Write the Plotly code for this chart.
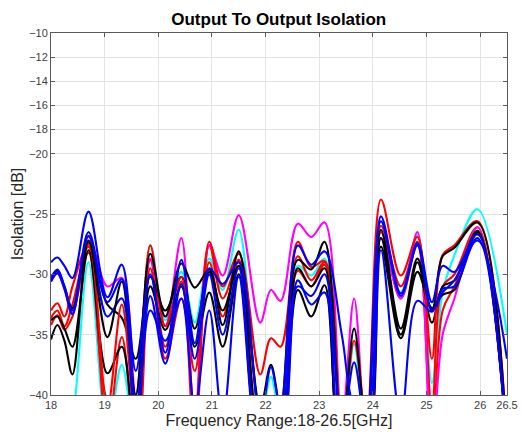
import plotly.graph_objects as go

# Frequency breakpoints (GHz)
freq = [18.00, 18.12, 18.25, 18.40, 18.70, 19.05, 19.32, 19.58, 19.85, 20.13, 20.43,
        20.68, 20.95, 21.20, 21.50, 21.90, 22.10, 22.28, 22.60, 22.85, 23.10, 23.42,
        23.65, 23.88, 24.15, 24.52, 24.83, 25.10, 25.30, 25.52, 25.95, 26.50]

# Isolation traces (dB)
cyan_1 = [-44.0, -44.0, -44.0, -42.0, -29.0, -43.0, -37.5, -44.0, -27.6, -33.8, -29.8,
          -34.0, -28.7, -31.3, -26.3, -42.0, -38.5, -42.0, -29.3, -30.1, -28.7, -44.0,
          -35.8, -44.0, -25.6, -31.5, -26.7, -39.0, -31.5, -28.4, -24.6, -35.0]
red_1 = [-33.0, -32.4, -33.5, -31.0, -27.5, -41.0, -32.5, -42.0, -27.6, -34.3, -30.2,
         -42.0, -27.3, -31.0, -28.3, -38.3, -35.3, -36.0, -27.3, -29.4, -28.9, -43.0,
         -35.5, -42.0, -23.8, -30.1, -26.9, -37.0, -28.4, -27.6, -25.6, -44.0]
red_2 = [-33.6, -33.0, -34.3, -32.5, -27.7, -43.0, -35.2, -44.0, -28.8, -36.0, -30.6,
         -44.0, -27.6, -32.0, -29.0, -43.0, -42.0, -44.0, -29.7, -31.0, -29.2, -44.0,
         -43.0, -44.0, -26.0, -31.0, -27.3, -41.0, -31.0, -30.0, -26.1, -44.0]
red_3 = [-34.2, -33.4, -34.6, -33.5, -28.2, -40.5, -42.0, -45.0, -29.5, -37.0, -32.0,
         -38.0, -29.0, -33.5, -28.8, -42.0, -44.0, -42.0, -28.5, -30.5, -29.0, -44.0,
         -44.0, -44.0, -26.5, -32.0, -27.5, -44.0, -33.0, -31.0, -26.6, -44.0]
magenta_1 = [-30.6, -29.9, -31.2, -33.2, -26.9, -31.0, -30.3, -40.0, -28.7, -34.3, -27.0,
             -42.0, -27.6, -30.1, -25.1, -34.0, -31.3, -32.2, -25.8, -26.9, -25.7, -42.0,
             -32.0, -44.0, -27.0, -32.0, -26.5, -44.0, -35.0, -32.0, -26.1, -44.0]
black_1 = [-35.4, -34.2, -35.5, -38.3, -27.2, -35.2, -30.6, -40.0, -28.3, -33.5, -29.1,
           -31.1, -29.6, -34.2, -28.1, -41.0, -37.5, -41.0, -28.8, -29.6, -27.3, -43.0,
           -34.5, -43.0, -26.3, -34.5, -28.7, -33.0, -28.5, -27.8, -25.7, -44.0]
black_2 = [-30.4, -29.7, -31.0, -32.8, -27.4, -32.5, -33.6, -37.0, -30.2, -33.0, -30.2,
           -34.5, -29.8, -33.0, -29.3, -43.0, -42.0, -44.0, -31.3, -33.5, -30.9, -44.0,
           -43.0, -44.0, -27.7, -35.3, -29.8, -32.8, -31.7, -31.3, -26.5, -44.0]
black_3 = [-33.8, -33.5, -34.5, -36.0, -28.0, -38.2, -36.0, -44.0, -31.0, -34.6, -31.0,
           -36.0, -31.5, -36.0, -30.0, -44.0, -44.0, -44.0, -29.5, -31.0, -29.5, -44.0,
           -44.0, -44.0, -27.0, -35.0, -29.0, -34.0, -31.0, -30.5, -26.4, -44.0]
blue_1 = [-29.0, -28.6, -29.3, -30.3, -24.8, -31.9, -29.2, -38.0, -30.0, -36.5, -28.8,
          -35.7, -29.5, -30.8, -29.0, -42.0, -37.7, -41.0, -27.6, -29.2, -28.1, -35.0,
          -41.0, -42.0, -25.2, -31.6, -27.4, -32.3, -29.3, -29.8, -26.7, -44.0]
blue_2 = [-30.3, -29.6, -31.0, -33.0, -26.5, -32.3, -30.4, -41.0, -31.8, -37.4, -30.8,
          -37.0, -30.0, -35.0, -29.5, -44.0, -44.0, -43.0, -31.0, -31.8, -30.0, -43.0,
          -37.3, -43.0, -25.6, -31.8, -27.6, -33.0, -31.5, -30.5, -27.2, -37.0]
blue_3 = [-30.6, -29.9, -31.2, -33.3, -26.8, -33.5, -32.0, -43.0, -33.0, -35.5, -32.0,
          -41.0, -33.0, -42.0, -30.2, -45.0, -44.0, -44.0, -30.5, -32.5, -31.5, -44.0,
          -43.0, -44.0, -28.0, -42.0, -32.2, -33.1, -31.2, -31.0, -27.0, -44.0]

series = [
    (cyan_1, "#00ffff"),
    (red_3, "#ff0000"),
    (red_2, "#ff0000"),
    (magenta_1, "#ff00ff"),
    (black_3, "#000000"),
    (black_2, "#000000"),
    (red_1, "#ff0000"),
    (blue_3, "#0000ff"),
    (black_1, "#000000"),
    (blue_2, "#0000ff"),
    (blue_1, "#0000ff"),
]

y_ticks = [-40, -35, -30, -25, -20, -18, -16, -14, -12, -10]
x_ticks = [18, 19, 20, 21, 22, 23, 24, 25, 26, 26.5]
x_tick_text = ["18", "19", "20", "21", "22", "23", "24", "25", "26", "26.5"]

fig = go.Figure()
for vals, col in series:
    fig.add_trace(go.Scatter(x=freq, y=vals, mode="lines",
                             line=dict(color=col, width=2.1, shape="spline", smoothing=1.0),
                             showlegend=False, hoverinfo="skip"))

font_family = "Liberation Sans, Arial, sans-serif"
axis_common = dict(showline=True, mirror="ticks", linecolor="#5a5a5a", linewidth=1,
                   ticks="inside", ticklen=4, tickcolor="#5a5a5a",
                   showgrid=True, gridcolor="#e3e3e3", gridwidth=1, zeroline=False,
                   tickfont=dict(family=font_family, size=11, color="#404040"),
                   automargin=False)

fig.update_layout(
    width=521, height=436,
    margin=dict(l=51, r=14, t=33, b=41),
    paper_bgcolor="white", plot_bgcolor="white",
    title=dict(text="<b>Output To Output Isolation</b>", x=0.535, xref="container",
               xanchor="center", y=1 - 19 / 436, yref="container", yanchor="middle",
               font=dict(family=font_family, size=17, color="#000000")),
    xaxis=dict(range=[18, 26.5], tickvals=x_ticks, ticktext=x_tick_text,
               title=dict(text="Frequency Range:18-26.5[GHz]", standoff=4,
                          font=dict(family=font_family, size=16, color="#262626")),
               **axis_common),
    yaxis=dict(range=[-40, -10], tickvals=y_ticks,
               title=dict(text="Isolation [dB]", standoff=1,
                          font=dict(family=font_family, size=16, color="#262626")),
               **axis_common),
)

fig.write_html("out.html", config={"displayModeBar": False},
               post_script="document.body.style.margin='0px';document.body.style.overflow='hidden';")
